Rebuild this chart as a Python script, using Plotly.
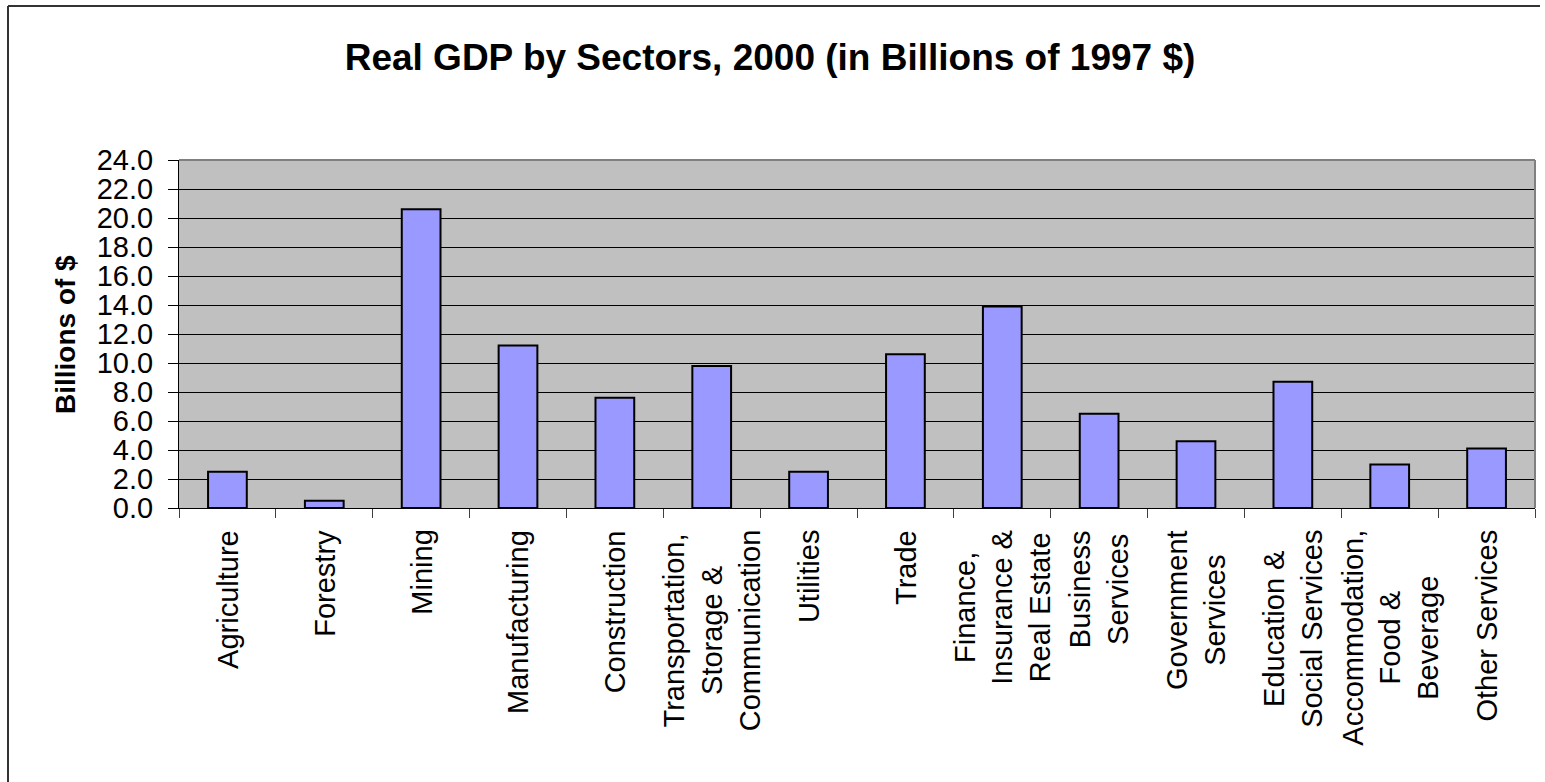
import plotly.graph_objects as go

# Sector names (line breaks used for the rotated category labels)
sectors = [
    "Agriculture",
    "Forestry",
    "Mining",
    "Manufacturing",
    "Construction",
    "Transportation,<br>Storage &<br>Communication",
    "Utilities",
    "Trade",
    "Finance,<br>Insurance &<br>Real Estate",
    "Business<br>Services",
    "Government<br>Services",
    "Education &<br>Social Services",
    "Accommodation,<br>Food &<br>Beverage",
    "Other Services",
]

# Real GDP, billions of 1997 dollars
gdp_2000 = [2.5, 0.5, 20.6, 11.2, 7.6, 9.8, 2.5, 10.6, 13.9, 6.5, 4.6, 8.7, 3.0, 4.1]

y_ticks = [0, 2, 4, 6, 8, 10, 12, 14, 16, 18, 20, 22, 24]

FONT = "Liberation Sans, Arial, sans-serif"
W, H = 1545, 782
PL, PR, PT, PB = 179, 1535, 160, 508  # plot area in pixels


def px_x(px):
    return (px - PL) / (PR - PL)


def px_y(py):
    return (PB - py) / (PB - PT)


fig = go.Figure(
    go.Bar(
        x=sectors,
        y=gdp_2000,
        width=0.4,
        marker=dict(color="#9999FF", line=dict(color="black", width=2)),
        hoverinfo="x+y",
    )
)

# Category labels, rotated and centred line by line
annotations = []
for s in sectors:
    annotations.append(
        dict(
            x=s, xref="x", y=0, yref="paper",
            yanchor="top", xanchor="center",
            yshift=-20,
            text=s, textangle=-90, align="center",
            showarrow=False,
            font=dict(family=FONT, size=29, color="black"),
        )
    )

# Vertical axis title
annotations.append(
    dict(
        x=px_x(65), xref="paper", y=0.5, yref="paper",
        xanchor="center", yanchor="middle",
        text="<b>Billions of $</b>", textangle=-90,
        showarrow=False,
        font=dict(family=FONT, size=28, color="black"),
    )
)

shapes = [
    # outer chart frame (top and left edges)
    dict(type="line", xref="paper", yref="paper",
         x0=px_x(8), x1=px_x(1540), y0=px_y(6), y1=px_y(6),
         line=dict(color="#333333", width=2), layer="above"),
    dict(type="line", xref="paper", yref="paper",
         x0=px_x(8), x1=px_x(8), y0=px_y(6), y1=px_y(800),
         line=dict(color="#333333", width=2), layer="above"),
    # grey plot-area border on top and right
    dict(type="line", xref="paper", yref="paper",
         x0=0, x1=1, y0=1, y1=1,
         line=dict(color="#808080", width=2), layer="above"),
    dict(type="line", xref="paper", yref="paper",
         x0=1, x1=1, y0=0, y1=1,
         line=dict(color="#808080", width=2), layer="above"),
]

fig.update_layout(
    width=W,
    height=H,
    margin=dict(l=PL, r=W - PR, t=PT, b=H - PB, pad=0),
    paper_bgcolor="white",
    plot_bgcolor="#C0C0C0",
    showlegend=False,
    bargap=0.6,
    font=dict(family=FONT, color="black"),
    title=dict(
        text="<b>Real GDP by Sectors, 2000 (in Billions of 1997 $)</b>",
        x=770 / W, xref="container", xanchor="center",
        y=1 - 57 / H, yref="container", yanchor="middle",
        font=dict(family=FONT, size=37, color="black"),
    ),
    xaxis=dict(
        type="category",
        showticklabels=False,
        ticks="outside",
        tickson="boundaries",
        ticklen=9,
        tickcolor="#404040",
        tickwidth=1,
        showline=True,
        linecolor="black",
        linewidth=1,
        showgrid=False,
        fixedrange=True,
    ),
    yaxis=dict(
        range=[0, 24],
        tickvals=y_ticks,
        tickformat=".1f",
        ticks="outside",
        ticklen=10,
        tickcolor="black",
        tickwidth=1,
        ticklabelstandoff=9,
        tickfont=dict(family=FONT, size=29, color="black"),
        showline=True,
        linecolor="black",
        linewidth=1,
        showgrid=True,
        gridcolor="black",
        gridwidth=1,
        zeroline=False,
        fixedrange=True,
    ),
    annotations=annotations,
    shapes=shapes,
)

fig.write_html("out.html")
